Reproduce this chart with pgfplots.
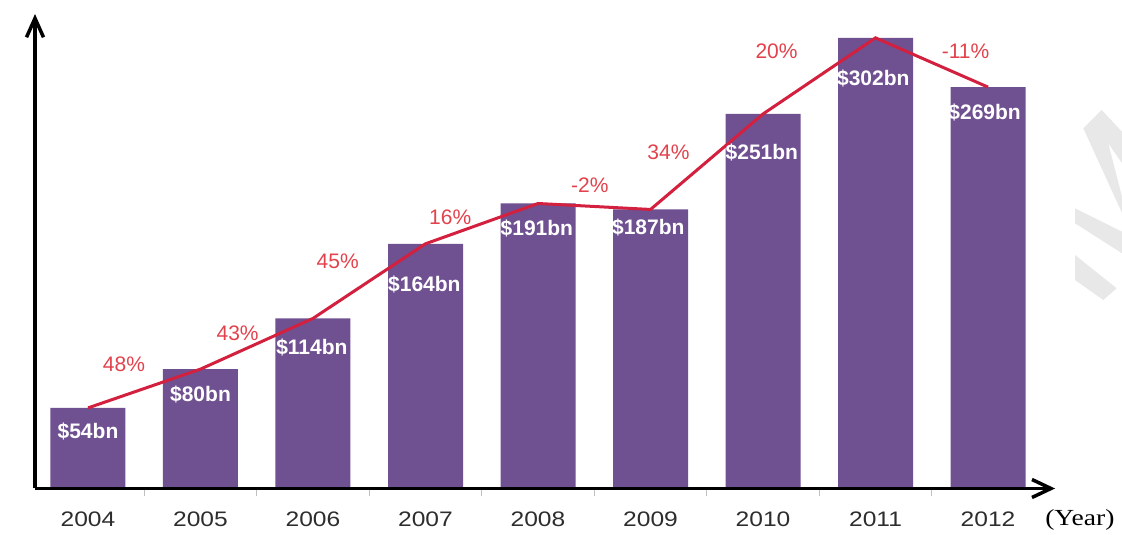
\documentclass[border=0pt]{standalone}
\usepackage{pgfplots}
\pgfplotsset{compat=1.18}
\usetikzlibrary{arrows.meta}
\usepackage{fontspec}
\setmainfont{Liberation Sans}
\newfontfamily\timesfont{Liberation Serif}
\definecolor{barpurple}{RGB}{111,80,145}
\definecolor{linered}{RGB}{210,32,62}
\definecolor{pctred}{RGB}{226,66,76}
\definecolor{ticktext}{RGB}{45,45,45}
\definecolor{wm}{RGB}{232,232,232}
\newcommand\lbl{\fontsize{21}{25}\selectfont}
\newcommand\yr[1]{\scalebox{1.17}[1]{#1}}
\begin{document}
\begin{tikzpicture}
\begin{axis}[
  at={(0,0)}, anchor=south west,
  scale only axis, width=1020pt, height=474.5pt,
  xmin=-0.471, xmax=8.596, ymin=0, ymax=318,
  axis lines=left,
  axis on top=true,
  axis line style={line width=3.5pt, black},
  x axis line style={-{Straight Barb[length=19pt,width=18pt]}},
  y axis line style={-{Straight Barb[length=19pt,width=17pt]}},
  xtick={0,1,2,3,4,5,6,7,8},
  xticklabels={\yr{2004},\yr{2005},\yr{2006},\yr{2007},\yr{2008},\yr{2009},\yr{2010},\yr{2011},\yr{2012}},
  minor xtick={0.5,1.5,2.5,3.5,4.5,5.5,6.5,7.5},
  ytick=\empty,
  major tick length=0pt,
  minor tick length=8pt,
  tick align=outside,
  minor tick style={gray!50, line width=0.8pt},
  xticklabel style={font=\lbl, text=ticktext, yshift=-19.5pt},
  clip=false,
]
\addplot[ybar, bar width=75pt, fill=barpurple, draw=none]
  coordinates {(0,54) (1,80) (2,114) (3,164) (4,191) (5,187) (6,251) (7,302) (8,269)};
\addplot[linered, line width=3pt, mark=none]
  coordinates {(0,54) (1,80) (2,114) (3,164) (4,191) (5,187) (6,251) (7,302) (8,269)};
\addplot[draw=none, mark=none, nodes near coords, point meta=explicit symbolic,
  nodes near coords style={anchor=center, font=\lbl\bfseries, text=white, inner sep=0pt}]
  coordinates {(0,38.5) [\$54bn] (1,62.7) [\$80bn] (1.99,94.5) [\$114bn]
  (2.99,136.4) [\$164bn] (3.99,174) [\$191bn] (4.98,174.6) [\$187bn]
  (5.99,224.9) [\$251bn] (6.98,275) [\$302bn] (7.97,251.7) [\$269bn]};
\addplot[draw=none, mark=none, nodes near coords, point meta=explicit symbolic,
  nodes near coords style={anchor=center, font=\lbl, text=pctred, inner sep=0pt}]
  coordinates {(0.32,83.4) [48\%] (1.33,104) [43\%] (2.22,152) [45\%]
  (3.22,182) [16\%] (4.46,203) [-2\%] (5.16,225) [34\%]
  (6.12,293) [20\%] (7.80,293) [-11\%]};
\node[anchor=west, font=\timesfont\fontsize{23}{27}\selectfont, inner sep=0pt]
  at (rel axis cs:1,0) [xshift=-10pt, yshift=-31pt] {\scalebox{1.2}[1]{(Year)}};
\end{axis}
\fill[wm] (1048.3pt,360.2pt) -- (1066.7pt,378.5pt) -- (1087pt,356.8pt) -- (1087pt,325.2pt)
  -- (1073.3pt,345.2pt) -- (1087pt,291.8pt) -- (1087pt,275.5pt) -- cycle;
\fill[wm] (1040pt,280.2pt) -- (1087pt,256.8pt) -- (1087pt,235.2pt) -- (1040pt,265.2pt) -- cycle;
\fill[wm] (1040pt,233.5pt) -- (1081.7pt,200.2pt) -- (1068.3pt,188.5pt) -- (1040pt,208.5pt) -- cycle;
\pgfresetboundingbox
\useasboundingbox (-35pt,-46.5pt) rectangle (1087pt,488.5pt);
\end{tikzpicture}
\end{document}
